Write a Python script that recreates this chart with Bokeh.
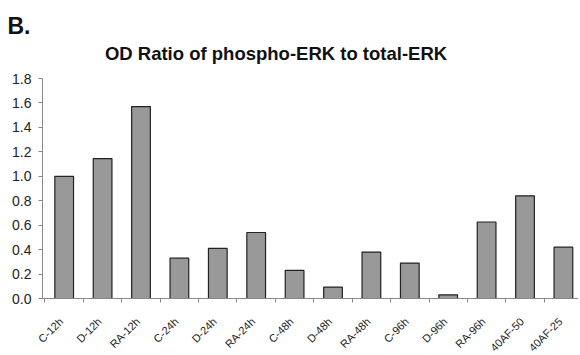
from math import pi
from bokeh.plotting import figure
from bokeh.models import FixedTicker, Range1d, Label, LabelSet, ColumnDataSource
from bokeh.core.properties import value
from bokeh.embed import file_html
from bokeh.resources import INLINE

# ---- data ----
categories = ["C-12h", "D-12h", "RA-12h", "C-24h", "D-24h", "RA-24h", "C-48h",
              "D-48h", "RA-48h", "C-96h", "D-96h", "RA-96h", "40AF-50", "40AF-25"]
values = [1.00, 1.145, 1.57, 0.33, 0.41, 0.54, 0.23,
          0.093, 0.38, 0.29, 0.03, 0.626, 0.84, 0.42]
y_ticks = [0.0, 0.2, 0.4, 0.6, 0.8, 1.0, 1.2, 1.4, 1.6, 1.8]
y_tick_labels = [f"{t:.1f}" for t in y_ticks]
title_text = "OD Ratio of phospho-ERK to total-ERK"
panel_text = "B."

FONT = "Liberation Sans, Arial, Helvetica, sans-serif"

# layout constants (data-space positions of the frame edges / axis line)
AXIS_X = -0.565
X_LO, X_HI = -1.398, 13.393
Y_LO, Y_HI = -0.45, 2.1273

idx = list(range(len(categories)))
src = ColumnDataSource(dict(x=idx, top=values, name=categories, base=[0] * len(idx)))
ysrc = ColumnDataSource(dict(y=y_ticks, label=y_tick_labels, x=[AXIS_X] * len(y_ticks)))

p = figure(width=578, height=353, output_backend="svg", toolbar_location=None,
           x_range=Range1d(X_LO, X_HI), y_range=Range1d(Y_LO, Y_HI),
           x_axis_location="above",
           min_border_left=10, min_border_right=0, min_border_top=38,
           min_border_bottom=0)

p.vbar(x="x", top="top", width=0.487, source=src,
       fill_color="#999999", line_color="#222222", line_width=1.2)

# panel letter
p.title.text = panel_text
p.title.align = "left"
p.title.offset = -3
p.title.text_font = FONT
p.title.text_font_size = "23px"
p.title.text_font_style = "bold"
p.title.text_color = "#111111"
p.title.standoff = 0

# chart title
p.add_layout(Label(text=title_text, x=5.516, y=2.005,
                   text_font=FONT, text_font_size="18.5px", text_font_style="bold",
                   text_color="#111111", text_align="center", text_baseline="alphabetic"))

# category labels, rotated
p.add_layout(LabelSet(x="x", y="base", text="name", source=src, angle=pi / 4,
                      x_offset=-3, y_offset=-21, text_align="right", text_baseline="middle",
                      text_font=value(FONT), text_font_size=value("11px"),
                      text_color="#222222"))

# value labels
p.add_layout(LabelSet(x="x", y="y", text="label", source=ysrc,
                      x_offset=-11, y_offset=0, text_align="right", text_baseline="middle",
                      text_font=value(FONT), text_font_size=value("14px"),
                      text_color="#222222"))

# axes
p.grid.visible = False
p.outline_line_color = None

yax = p.yaxis[0]
yax.fixed_location = AXIS_X
yax.bounds = (0, 1.8)
yax.ticker = FixedTicker(ticks=y_ticks)
yax.major_label_overrides = {t: "" for t in y_ticks}
yax.major_label_text_font_size = "0px"
yax.major_label_standoff = 0
yax.axis_line_color = "#888888"
yax.major_tick_line_color = "#888888"
yax.major_tick_out = 4
yax.major_tick_in = 0
yax.minor_tick_out = 0
yax.minor_tick_in = 0

xax = p.xaxis[0]
xax.fixed_location = 0
xax.bounds = (AXIS_X, X_HI)
xax.ticker = FixedTicker(ticks=[], minor_ticks=[i - 0.5 for i in range(len(categories) + 1)])
xax.axis_line_color = "#888888"
xax.major_tick_out = 0
xax.major_tick_in = 0
xax.minor_tick_out = 0
xax.minor_tick_in = 4
xax.minor_tick_line_color = "#888888"
xax.major_label_text_font_size = "0px"
xax.major_label_standoff = 0

open("out.html", "w").write(file_html(p, INLINE))
